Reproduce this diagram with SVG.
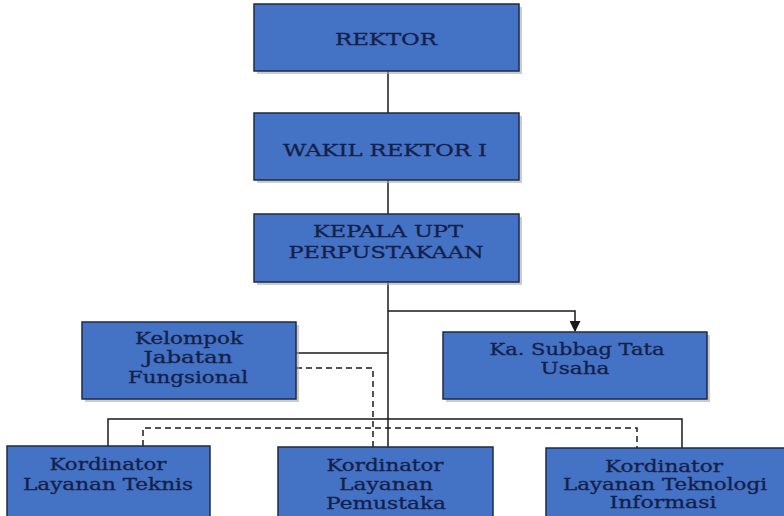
<svg xmlns="http://www.w3.org/2000/svg" width="784" height="516" viewBox="0 0 784 516">
<style>
.box{fill:#4472c4;stroke:#1f2a44;stroke-width:1.5}
.sh{fill:#a9a9a9;opacity:0.6}
.t{font-family:"DejaVu Serif","Liberation Serif",serif;font-size:16px;fill:#14204a;stroke:#14204a;stroke-width:0.3;text-anchor:middle}
.c{stroke:#1a1a1a;stroke-width:1.5;fill:none}
.d{stroke:#1a1a1a;stroke-width:1.5;fill:none;stroke-dasharray:6 4}
</style>
<defs>
<marker id="arr" viewBox="0 0 10 10" refX="9" refY="5" markerWidth="11" markerHeight="11" orient="auto" markerUnits="userSpaceOnUse">
<path d="M0,0 L10,5 L0,10 z" fill="#1a1a1a"/>
</marker>
</defs>
<rect width="784" height="516" fill="#ffffff"/>
<g id="connectors">
<line class="c" x1="388" y1="71" x2="388" y2="113"/>
<line class="c" x1="388" y1="180" x2="388" y2="214"/>
<line class="c" x1="388" y1="282" x2="388" y2="447"/>
<polyline class="c" points="388,311 575,311 575,331" marker-end="url(#arr)"/>
<line class="c" x1="296" y1="353" x2="388" y2="353"/>
<polyline class="c" points="108,446 108,419 682,419 682,448"/>
<polyline class="d" points="296,368 373,368 373,447"/>
<polyline class="d" points="143,446 143,428 637,428 637,448"/>
</g>
<g id="rektor">
<rect class="sh" x="257" y="7" width="265" height="67"/>
<rect class="box" x="254" y="4" width="265" height="67"/>
<text class="t" x="386" y="45" textLength="102" lengthAdjust="spacingAndGlyphs">REKTOR</text>
</g>
<g id="wakil">
<rect class="sh" x="257" y="116" width="265" height="67"/>
<rect class="box" x="254" y="113" width="265" height="67"/>
<text class="t" x="385" y="156" textLength="204" lengthAdjust="spacingAndGlyphs">WAKIL REKTOR I</text>
</g>
<g id="kepala">
<rect class="sh" x="257" y="217" width="265" height="68"/>
<rect class="box" x="254" y="214" width="265" height="68"/>
<text class="t" x="388" y="237" textLength="150" lengthAdjust="spacingAndGlyphs">KEPALA UPT</text>
<text class="t" x="386" y="258" textLength="195" lengthAdjust="spacingAndGlyphs">PERPUSTAKAAN</text>
</g>
<g id="kelompok">
<rect class="sh" x="85" y="325" width="214" height="77"/>
<rect class="box" x="82" y="322" width="214" height="77"/>
<text class="t" x="189" y="344" textLength="108" lengthAdjust="spacingAndGlyphs">Kelompok</text>
<text class="t" x="188" y="363" textLength="89" lengthAdjust="spacingAndGlyphs">Jabatan</text>
<text class="t" x="188" y="383" textLength="120" lengthAdjust="spacingAndGlyphs">Fungsional</text>
</g>
<g id="subbag">
<rect class="sh" x="446" y="335" width="264" height="67"/>
<rect class="box" x="443" y="332" width="264" height="67"/>
<text class="t" x="577" y="355" textLength="175" lengthAdjust="spacingAndGlyphs">Ka. Subbag Tata</text>
<text class="t" x="575" y="374" textLength="69" lengthAdjust="spacingAndGlyphs">Usaha</text>
</g>
<g id="teknis">
<rect class="box" x="7" y="446" width="203" height="80"/>
<text class="t" x="108" y="470" textLength="117" lengthAdjust="spacingAndGlyphs">Kordinator</text>
<text class="t" x="108" y="490" textLength="170" lengthAdjust="spacingAndGlyphs">Layanan Teknis</text>
</g>
<g id="pemustaka">
<rect class="box" x="278" y="447" width="215" height="80"/>
<text class="t" x="385" y="471" textLength="117" lengthAdjust="spacingAndGlyphs">Kordinator</text>
<text class="t" x="386" y="490" textLength="94" lengthAdjust="spacingAndGlyphs">Layanan</text>
<text class="t" x="386" y="509" textLength="120" lengthAdjust="spacingAndGlyphs">Pemustaka</text>
</g>
<g id="teknologi">
<rect class="box" x="546" y="448" width="245" height="80"/>
<text class="t" x="664" y="472" textLength="118" lengthAdjust="spacingAndGlyphs">Kordinator</text>
<text class="t" x="665" y="490" textLength="204" lengthAdjust="spacingAndGlyphs">Layanan Teknologi</text>
<text class="t" x="663" y="508" textLength="107" lengthAdjust="spacingAndGlyphs">Informasi</text>
</g>
</svg>
